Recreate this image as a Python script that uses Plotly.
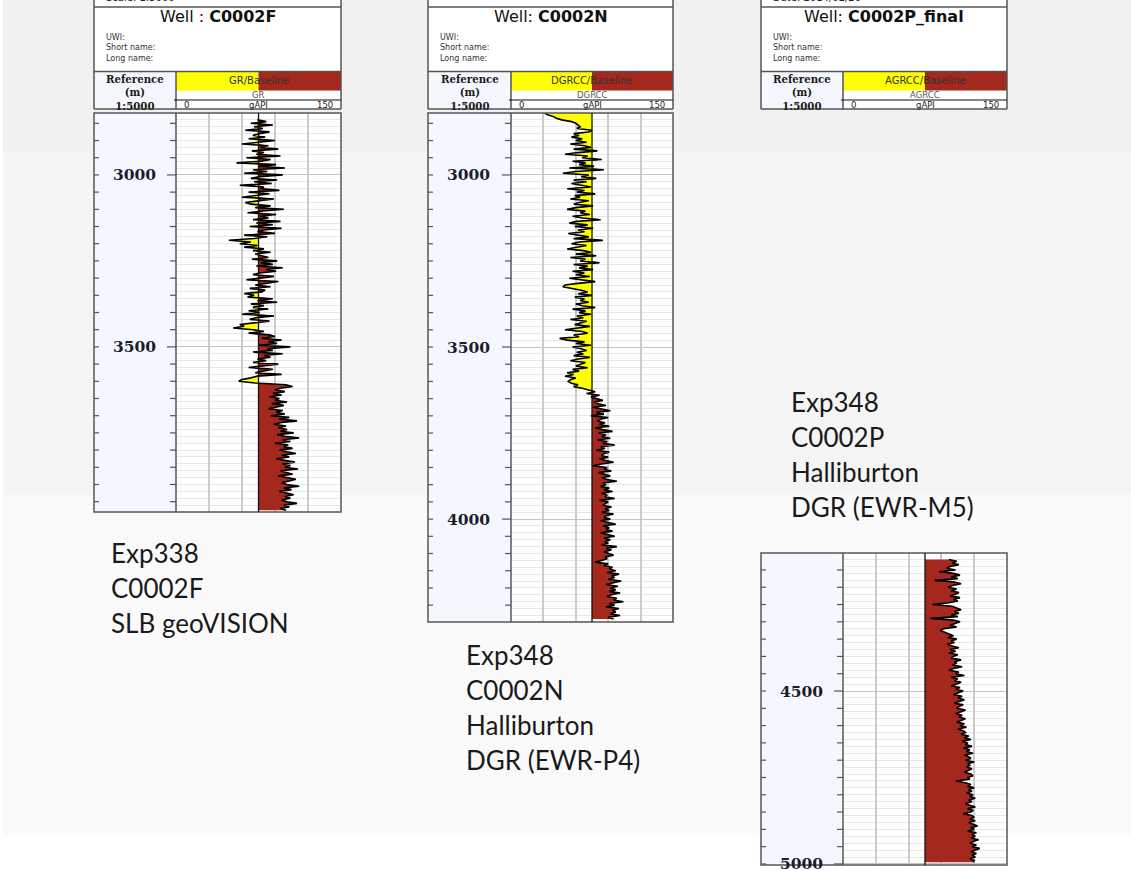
import plotly.graph_objects as go

W, H = 1131, 870

# ---------------- data ----------------
WELL_PREFIX = ["Well : ", "Well: ", "Well: "]
WELL_NAMES = ["C0002F", "C0002N", "C0002P_final"]
CURVE_NAMES = ["GR", "DGRCC", "AGRCC"]
TOP_TEXT = ["Scale: 1:5000", "", "Date: 2014/02/20"]
INFO_LINES = ["UWI:", "Short name:", "Long name:"]
REF_LINES = ["Reference", "(m)", "1:5000"]
UNIT = "gAPI"
SCALE_MIN, SCALE_MAX = 0, 150
BASELINE = 75
STEP = 5

F_DEPTH_START = 2840
F_GR = [74, 82, 68, 88, 71, 79, 63, 85, 76, 70,
        81, 66, 90, 72, 60, 84, 77, 93, 69, 80,
        73, 95, 64, 86, 78, 55, 91, 75, 99, 70,
        83, 62, 97, 76, 68, 92, 71, 87, 58, 80,
        77, 94, 66, 85, 72, 60, 89, 74, 63, 68,
        86, 72, 98, 79, 65, 91, 76, 84, 70, 95,
        73, 88, 67, 96, 80, 74, 90, 62, 83, 71,
        48, 68, 58, 74, 62, 80, 70, 86, 72, 78,
        84, 69, 92, 77, 88, 73, 97, 82, 91, 76,
        70, 89, 75, 64, 93, 80, 72, 86, 67, 81,
        78, 62, 71, 65, 88, 74, 92, 68, 80, 70,
        84, 66, 76, 60, 89, 73, 67, 85, 71, 58,
        62, 52, 70, 80, 66, 85, 90, 78, 96, 84,
        92, 75, 104, 83, 88, 70, 97, 80, 86, 74,
        82, 70, 93, 76, 66, 88, 79, 72, 96, 74,
        68, 60, 57, 72, 100, 106, 95, 90, 99, 88,
        96, 85, 94, 90, 101, 87, 98, 92, 84, 97,
        91, 99, 86, 103, 94, 110, 96, 89, 100, 93,
        101, 95, 107, 92, 99, 112, 97, 104, 90, 102,
        98, 106, 94, 101, 109, 96, 103, 91, 100, 108,
        97, 104, 99, 111, 95, 102, 106, 93, 100, 109,
        103, 96, 101, 112, 98, 105, 94, 100, 107, 99,
        104, 96, 101, 110, 98, 103, 95, 100]

N_DEPTH_START = 2820
N_GR = [31, 34, 39, 42, 47, 56, 60, 62, 64, 61,
        75, 72, 58, 63, 56, 66, 60, 70, 55, 68,
        74, 58, 80, 62, 50, 71, 66, 84, 57, 69,
        63, 77, 54, 86, 60, 48, 72, 65, 79, 58,
        70, 56, 66, 74, 52, 68, 61, 78, 59, 64,
        55, 72, 63, 58, 76, 60, 52, 69, 64, 73,
        57, 66, 83, 61, 54, 71, 59, 76, 62, 68,
        53, 64, 72, 58, 85, 63, 56, 70, 61, 52,
        67, 74, 60, 79, 55, 69, 64, 82, 58, 71,
        63, 76, 57, 68, 60, 73, 54, 66, 78, 62,
        50, 48, 58, 65, 71, 62, 75, 59, 68, 64,
        72, 60, 66, 78, 57, 69, 63, 74, 61, 67,
        55, 70, 64, 59, 73, 62, 50, 66, 71, 58,
        63, 45, 52, 68, 60, 74, 57, 65, 70, 61,
        67, 58, 73, 62, 55, 69, 64, 60, 71, 57,
        63, 52, 58, 50, 60, 55, 53, 56, 62, 58,
        66, 72, 78, 70, 82, 74, 79, 85, 77, 81,
        88, 76, 84, 92, 79, 86, 74, 90, 83, 80,
        87, 82, 91, 78, 85, 94, 81, 88, 84, 92,
        80, 89, 85, 96, 83, 87, 79, 91, 86, 84,
        90, 82, 88, 95, 84, 76, 89, 86, 93, 81,
        87, 92, 84, 89, 98, 85, 88, 83, 91, 86,
        94, 84, 89, 87, 96, 82, 90, 88, 85, 93,
        87, 91, 84, 95, 88, 86, 92, 83, 90, 97,
        85, 91, 88, 94, 83, 89, 96, 86, 92, 87,
        90, 84, 98, 88, 93, 86, 91, 95, 87, 89,
        84, 78, 90, 86, 94, 91, 97, 89, 100, 93,
        96, 90, 102, 94, 88, 99, 92, 97, 91, 101,
        93, 89, 98, 95, 104, 91, 96, 88, 100, 94,
        97, 92, 101, 90, 95]

P_DEPTH_START = 4120
P_GR = [97, 104, 100, 106, 98, 95, 103, 88, 101, 107,
        99, 105, 84, 102, 108, 100, 96, 104, 99, 106,
        103, 98, 107, 101, 105, 97, 82, 100, 104, 108,
        102, 106, 99, 105, 80, 101, 107, 103, 98, 104,
        92, 89, 94, 97, 101, 96, 104, 99, 102, 95,
        100, 106, 98, 103, 97, 105, 101, 99, 108, 102,
        104, 100, 109, 101, 97, 106, 103, 111, 99, 105,
        102, 108, 104, 99, 107, 103, 110, 106, 101, 109,
        105, 111, 107, 102, 110, 106, 104, 112, 108, 103,
        109, 106, 112, 108, 104, 111, 107, 113, 105, 110,
        112, 108, 115, 111, 117, 109, 114, 112, 118, 110,
        116, 113, 119, 111, 115, 117, 112, 120, 114, 116,
        113, 118, 115, 111, 117, 119, 114, 116, 103, 112,
        117, 114, 120, 115, 118, 113, 119, 116, 121, 115,
        118, 112, 116, 121, 114, 119, 117, 110, 118, 120,
        116, 121, 115, 119, 123, 117, 120, 114, 122, 118,
        121, 117, 124, 119, 116, 122, 118, 125, 120, 117,
        122, 118, 121, 116, 120, 119]

F_DEPTH_LABELS = [3000, 3500]
N_DEPTH_LABELS = [3000, 3500, 4000]
P_DEPTH_LABELS = [4500, 5000]

F_NOTE = ["Exp338", "C0002F", "SLB geoVISION"]
N_NOTE = ["Exp348", "C0002N", "Halliburton", "DGR (EWR-P4)"]
P_NOTE = ["Exp348", "C0002P", "Halliburton", "DGR (EWR-M5)"]

# ---------------- layout geometry (pixels) ----------------
PANELS = [
    dict(x0=94, xd=176, x1=341, ly0=113, ly1=512, d0=2820, d1=3980,
         start=F_DEPTH_START, gr=F_GR, labels=F_DEPTH_LABELS,
         note=F_NOTE, nx=110, ny=553),
    dict(x0=428, xd=511, x1=673, ly0=113, ly1=622, d0=2820, d1=4299,
         start=N_DEPTH_START, gr=N_GR, labels=N_DEPTH_LABELS,
         note=N_NOTE, nx=465, ny=655),
    dict(x0=761, xd=843, x1=1007, ly0=553, ly1=865, d0=4101, d1=5003,
         start=P_DEPTH_START, gr=P_GR, labels=P_DEPTH_LABELS,
         note=P_NOTE, nx=790, ny=402),
]

YELLOW = "#ffff00"
RED = "#a5281f"
BORDER = "#555555"
DEPTH_BG = "#f4f8fe"
HDR = "DejaVu Sans"
SERIF = "DejaVu Serif"


def X(px):
    return px / W


def Y(py):
    return 1 - py / H


shapes = []
annotations = []


def rect(x0, y0, x1, y1, fill=None, line=None, lw=0, layer="below"):
    shapes.append(dict(type="rect", xref="paper", yref="paper",
                       x0=X(x0), x1=X(x1), y0=Y(y1), y1=Y(y0),
                       fillcolor=fill or "rgba(0,0,0,0)",
                       line=dict(color=line or "rgba(0,0,0,0)", width=lw),
                       layer=layer))


def seg(x0, y0, x1, y1, color=BORDER, lw=1.5, layer="above"):
    shapes.append(dict(type="line", xref="paper", yref="paper",
                       x0=X(x0), x1=X(x1), y0=Y(y0), y1=Y(y1),
                       line=dict(color=color, width=lw), layer=layer))


def text(x, y, s, size, family=HDR, color="#222222", xanchor="center",
         yanchor="middle", align="center"):
    annotations.append(dict(xref="paper", yref="paper", x=X(x), y=Y(y),
                            text=s, showarrow=False, xanchor=xanchor,
                            yanchor=yanchor, align=align, borderpad=0,
                            font=dict(size=size, family=family, color=color)))


# background bands
rect(0, 0, W, 152, "#f1f1f1")
rect(0, 152, W, 495, "#f5f5f5")
rect(0, 495, W, 835, "#fafafa")
rect(0, 835, W, H, "#ffffff")
rect(0, 0, 3, H, "#ffffff")

fig = go.Figure()
layout = dict(width=W, height=H, margin=dict(l=0, r=0, t=0, b=0),
              paper_bgcolor="#f5f5f5", plot_bgcolor="white",
              showlegend=False)

for i, p in enumerate(PANELS):
    n = i + 1
    xid = "x" if n == 1 else f"x{n}"
    yid = "y" if n == 1 else f"y{n}"
    xa = "xaxis" if n == 1 else f"xaxis{n}"
    ya = "yaxis" if n == 1 else f"yaxis{n}"
    x0, xd, x1 = p["x0"], p["xd"], p["x1"]
    ly0, ly1 = p["ly0"], p["ly1"]
    xb = xd + (x1 - xd) * (BASELINE - SCALE_MIN) / (SCALE_MAX - SCALE_MIN)

    # ---------- header ----------
    rect(x0, -3, x1, 109, "white")
    rect(x0, 71.5, xd, 109, DEPTH_BG)
    rect(xd, 71.5, xb, 90.5, YELLOW)
    rect(xb, 71.5, x1, 90.5, RED)
    seg(x0, -3, x0, 109)
    seg(x1, -3, x1, 109)
    seg(x0, 109, x1, 109)
    seg(x0, 7, x1, 7)
    seg(x0, 71.5, x1, 71.5)
    seg(xd, 71.5, xd, 109)
    seg(xd - 2, 100, x1, 100, color="#111111", lw=1.2)
    if TOP_TEXT[i]:
        text(x0 + 11, -2.5, TOP_TEXT[i], 10, xanchor="left")
    text((x0 + x1) / 2, 17,
         WELL_PREFIX[i] + "<b>" + WELL_NAMES[i] + "</b>", 16,
         color="#111111")
    text(x0 + 11, 47.5, "<br>".join(INFO_LINES), 8, color="#333333",
         xanchor="left", align="left")
    text((xd + x1) / 2, 81, CURVE_NAMES[i] + "/Baseline", 10,
         color="#333333")
    text((xd + x1) / 2, 94.8, CURVE_NAMES[i], 8.5, color="#555555")
    text(xd + 7, 105.2, str(SCALE_MIN), 8.5, color="#222222", xanchor="left")
    text((xd + x1) / 2, 105.2, UNIT, 8.5, color="#222222")
    text(x1 - 7, 105.2, str(SCALE_MAX), 8.5, color="#222222",
         xanchor="right")
    cx = (x0 + xd) / 2
    text(cx, 92, "<br>".join("<b>" + s + "</b>" for s in REF_LINES), 10.2,
         family=SERIF, color="#1a1a1a")

    # ---------- log area ----------
    rect(x0, ly0, xd, ly1, DEPTH_BG)
    rect(xd, ly0, x1, ly1, "white")
    rect(x0, ly0, x1, ly1, None, BORDER, 1.5, layer="above")
    seg(xd, ly0, xd, ly1)

    gr = p["gr"]
    depth = [p["start"] + k * STEP for k in range(len(gr))]
    yel = [min(v, BASELINE) for v in gr]
    red = [max(v, BASELINE) for v in gr]
    base = [BASELINE] * len(gr)
    common = dict(xaxis=xid, yaxis=yid, hoverinfo="skip", showlegend=False)
    fig.add_trace(go.Scatter(x=base, y=depth, mode="lines",
                             line=dict(width=0), **common))
    fig.add_trace(go.Scatter(x=yel, y=depth, mode="lines", line=dict(width=0),
                             fill="tonextx", fillcolor=YELLOW, **common))
    fig.add_trace(go.Scatter(x=base, y=depth, mode="lines",
                             line=dict(width=0), **common))
    fig.add_trace(go.Scatter(x=red, y=depth, mode="lines", line=dict(width=0),
                             fill="tonextx", fillcolor=RED, **common))
    fig.add_trace(go.Scatter(x=gr, y=depth, mode="lines",
                             line=dict(color="black", width=1.6), **common))

    # baseline line
    shapes.append(dict(type="line", xref=xid, yref=f"{yid} domain",
                       x0=BASELINE, x1=BASELINE, y0=0, y1=1,
                       line=dict(color="#111111", width=1.3), layer="above"))

    # depth ticks (every 50 m) and labels
    d0, d1 = p["d0"], p["d1"]
    first = ((d0 + 49) // 50) * 50
    for d in range(first, d1 + 1, 50):
        major = d % 500 == 0
        for (a, b) in [(x0, x0 + 5), (xd - (9 if major else 6), xd)]:
            shapes.append(dict(type="line", xref="paper", yref=yid,
                               x0=X(a), x1=X(b), y0=d, y1=d,
                               line=dict(color=BORDER, width=1.2),
                               layer="above"))
    for d in p["labels"]:
        annotations.append(dict(xref="paper", yref=yid, x=X(cx - 1), y=d,
                                text=f"<b>{d}</b>", showarrow=False,
                                xanchor="center", yanchor="middle",
                                font=dict(size=15.5, family=SERIF,
                                          color="#1c1c2e")))

    # axes
    layout[xa] = dict(domain=[X(xd), X(x1)], range=[SCALE_MIN, SCALE_MAX],
                      dtick=30, tick0=0, showgrid=True, gridcolor="#cbcbcb",
                      gridwidth=2, showticklabels=False, zeroline=False,
                      showline=False, ticks="", anchor=yid, fixedrange=True)
    layout[ya] = dict(domain=[Y(ly1), Y(ly0)], range=[d1, d0], dtick=500,
                      tick0=0, showgrid=True, gridcolor="#c4c4c4",
                      gridwidth=1,
                      minor=dict(dtick=20, tick0=0, showgrid=True,
                                 gridcolor="#e6e6e6", gridwidth=1),
                      showticklabels=False, zeroline=False, showline=False,
                      ticks="", anchor=xid, fixedrange=True)

    # description text
    for k, line in enumerate(p["note"]):
        text(p["nx"], p["ny"] + 35 * k, line, 26, family="Lato",
             color="#1a1a1a", xanchor="left")

layout["shapes"] = shapes
layout["annotations"] = annotations
fig.update_layout(**layout)

fig.write_html("out.html", config={"displayModeBar": False},
               post_script="document.body.style.margin='0';"
                           "document.body.style.overflow='hidden';")
